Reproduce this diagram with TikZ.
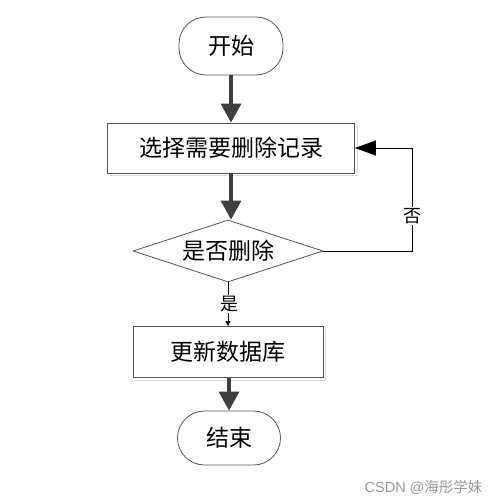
\documentclass[tikz,border=0pt]{standalone}
\usepackage{fontspec}
\newfontfamily\cjk{Noto Sans CJK SC}
\usetikzlibrary{shapes.geometric,arrows.meta}
\definecolor{edge}{HTML}{555555}
\definecolor{arr}{HTML}{3F3F3F}
\begin{document}
\begin{tikzpicture}[x=1pt,y=-1pt,
  every node/.style={font=\cjk\fontsize{23}{26}\selectfont, text=black},
  term/.style={draw=edge, line width=0.8pt, rounded corners=27pt, inner sep=0pt},
  proc/.style={draw=edge, line width=0.8pt, inner sep=0pt},
  dec/.style={draw=edge, line width=0.8pt, diamond, aspect=3.06, inner sep=0pt},
  flow/.style={draw=arr, line width=3.4pt, -{Triangle[length=19pt,width=20pt]}},
  thin/.style={draw=black, line width=0.8pt},
  shade/.style={draw=black!15, line width=0.8pt},
  lbl/.style={fill=white, inner sep=1pt, font=\cjk\fontsize{18}{20}\selectfont}
]
\useasboundingbox (0,0) rectangle (499,502);
\fill[white] (0,0) rectangle (499,502);
\node[term, minimum width=104pt, minimum height=58pt] (start) at (231,46) {开始};
\node[proc, minimum width=247pt, minimum height=50pt] (sel) at (231,148) {选择需要删除记录};
\draw[shade] (110,175) -- (357,175) -- (357,125);
\node[dec, minimum width=190pt, minimum height=62pt] (q) at (228,251) {是否删除};
\node[proc, minimum width=190pt, minimum height=51pt] (upd) at (228,352) {更新数据库};
\draw[shade] (135,380) -- (325,380) -- (325,329);
\node[term, minimum width=103pt, minimum height=54pt] (end) at (229,438) {结束};
\coordinate (c1) at (412,251);
\coordinate (c2) at (412,148);
\draw[flow] (start.south) -- (start.south |- sel.north);
\draw[flow] (sel.south) -- (sel.south |- q.north);
\draw[flow] (upd.south -| end.north) -- (end.north);
\draw[thin] (q.east) -- (c1) -- (c2);
\draw[draw=black, line width=0.8pt, -{Triangle[length=21pt,width=15pt]}] (c2) -- (sel.east);
\node[lbl] at (412,216) {否};
\draw[thin, -{Triangle[length=5pt,width=5pt]}] (q.south) -- (upd.north);
\node[lbl] at (229,304) {是};
\node[font=\fontspec{Liberation Sans}\fontsize{14.5}{16}\selectfont, text=black!40, anchor=east] (wm) at (486,487) {CSDN @{\cjk 海彤学妹}};
\end{tikzpicture}
\end{document}
